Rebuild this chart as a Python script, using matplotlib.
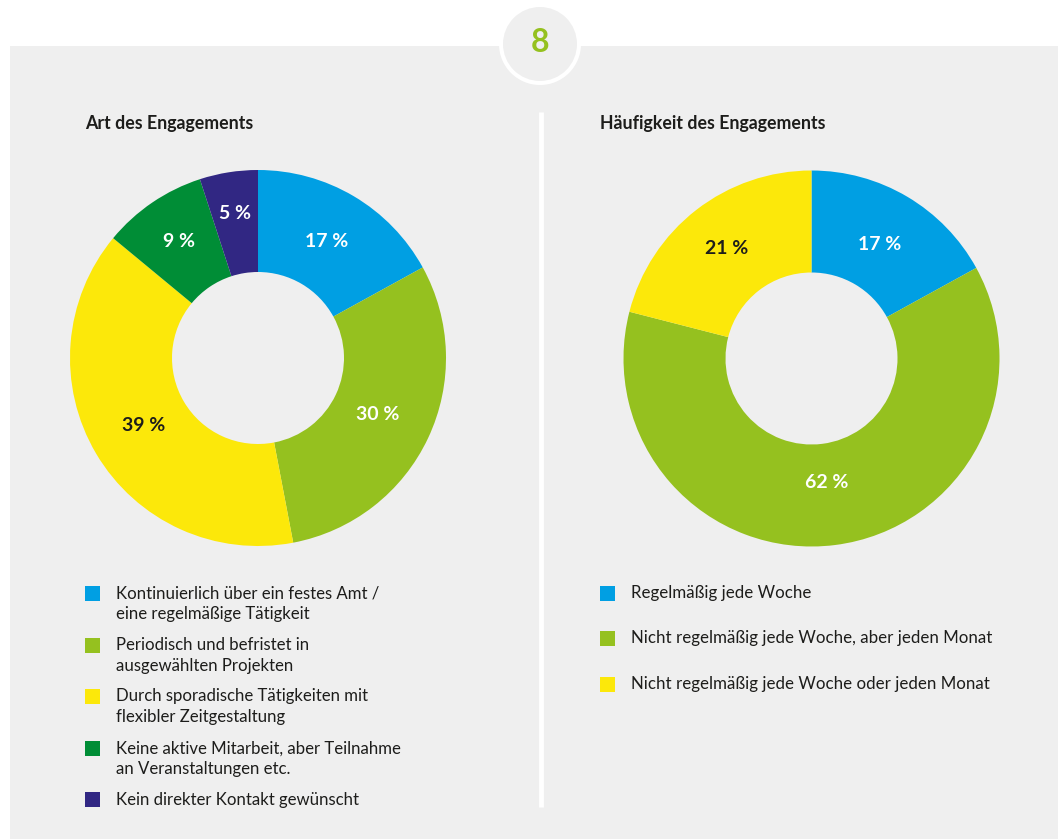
import matplotlib.pyplot as plt
from matplotlib.patches import Rectangle, Circle
import numpy as np

W, H = 1058, 839

# data
art_labels = [
    "Kontinuierlich über ein festes Amt /\neine regelmäßige Tätigkeit",
    "Periodisch und befristet in\nausgewählten Projekten",
    "Durch sporadische Tätigkeiten mit\nflexibler Zeitgestaltung",
    "Keine aktive Mitarbeit, aber Teilnahme\nan Veranstaltungen etc.",
    "Kein direkter Kontakt gewünscht",
]
art_values = [17, 30, 39, 9, 5]

freq_labels = [
    "Regelmäßig jede Woche",
    "Nicht regelmäßig jede Woche, aber jeden Monat",
    "Nicht regelmäßig jede Woche oder jeden Monat",
]
freq_values = [17, 62, 21]

blue, green, yellow, dgreen, purple = "#009fe3", "#95c11f", "#fce80a", "#008d36", "#312783"
art_colors = [blue, green, yellow, dgreen, purple]
freq_colors = [blue, green, yellow]
bg = "#efefef"
txt = "#1d1d1b"

plt.rcParams['font.family'] = ['Lato', 'DejaVu Sans']

fig = plt.figure(figsize=(W / 100, H / 100), dpi=100)
fig.patch.set_facecolor("white")
ax = fig.add_axes([0, 0, 1, 1])


def Y(y):
    return H - y


# panel, badge, divider
ax.add_patch(Rectangle((10, 0), W - 10, Y(46), facecolor=bg, edgecolor="none", zorder=0))
ax.add_patch(Circle((540, Y(44)), 41, facecolor="white", edgecolor="none", zorder=1))
ax.add_patch(Circle((540, Y(44)), 37, facecolor=bg, edgecolor="none", zorder=2))
ax.text(540, Y(43), "8", color=green, fontsize=23, fontweight="bold",
        ha="center", va="center", zorder=3)
ax.plot([541, 541], [Y(112), Y(807)], color="white", lw=3.5, solid_capstyle="butt", zorder=1)


def donut(values, colors, cx, cy, label_r, label_colors):
    wedges, _ = ax.pie(values, colors=colors, startangle=90, counterclock=False,
                       center=(cx, Y(cy)), radius=188, frame=True,
                       wedgeprops=dict(width=102, linewidth=0))
    for w, v, r, c in zip(wedges, values, label_r, label_colors):
        a = np.deg2rad((w.theta1 + w.theta2) / 2)
        ax.text(cx + r * np.cos(a), Y(cy) + r * np.sin(a), f"{v} %",
                color=c, fontsize=14, fontweight="bold", ha="center", va="center")


donut(art_values, art_colors, 258, 358, [135, 132, 133, 141, 146],
      ["white", "white", txt, "white", "white"])
donut(freq_values, freq_colors, 811.5, 358.5, [133, 125, 139],
      ["white", "white", txt])

# titles
ax.text(85, Y(123), "Art des Engagements", fontsize=12.8, fontweight="bold",
        color=txt, ha="left", va="center")
ax.text(600, Y(123), "Häufigkeit des Engagements", fontsize=12.8, fontweight="bold",
        color=txt, ha="left", va="center")

# legends
left_rows = [593, 645, 696, 748, 799]
for lab, col, y in zip(art_labels, art_colors, left_rows):
    ax.add_patch(Rectangle((85, Y(y) - 7.5), 15, 15, facecolor=col, edgecolor="none"))
    ax.text(116, Y(y) + 7.5, lab, fontsize=12.1, color=txt, ha="left", va="top",
            linespacing=1.35)

right_rows = [593, 638, 684]
for lab, col, y in zip(freq_labels, freq_colors, right_rows):
    ax.add_patch(Rectangle((600, Y(y) - 7.5), 15, 15, facecolor=col, edgecolor="none"))
    ax.text(631, Y(y), lab, fontsize=12.2, color=txt, ha="left", va="center")

ax.set_xlim(0, W)
ax.set_ylim(0, H)
ax.axis("off")

fig.savefig("out.png", dpi=100, facecolor=fig.get_facecolor())
